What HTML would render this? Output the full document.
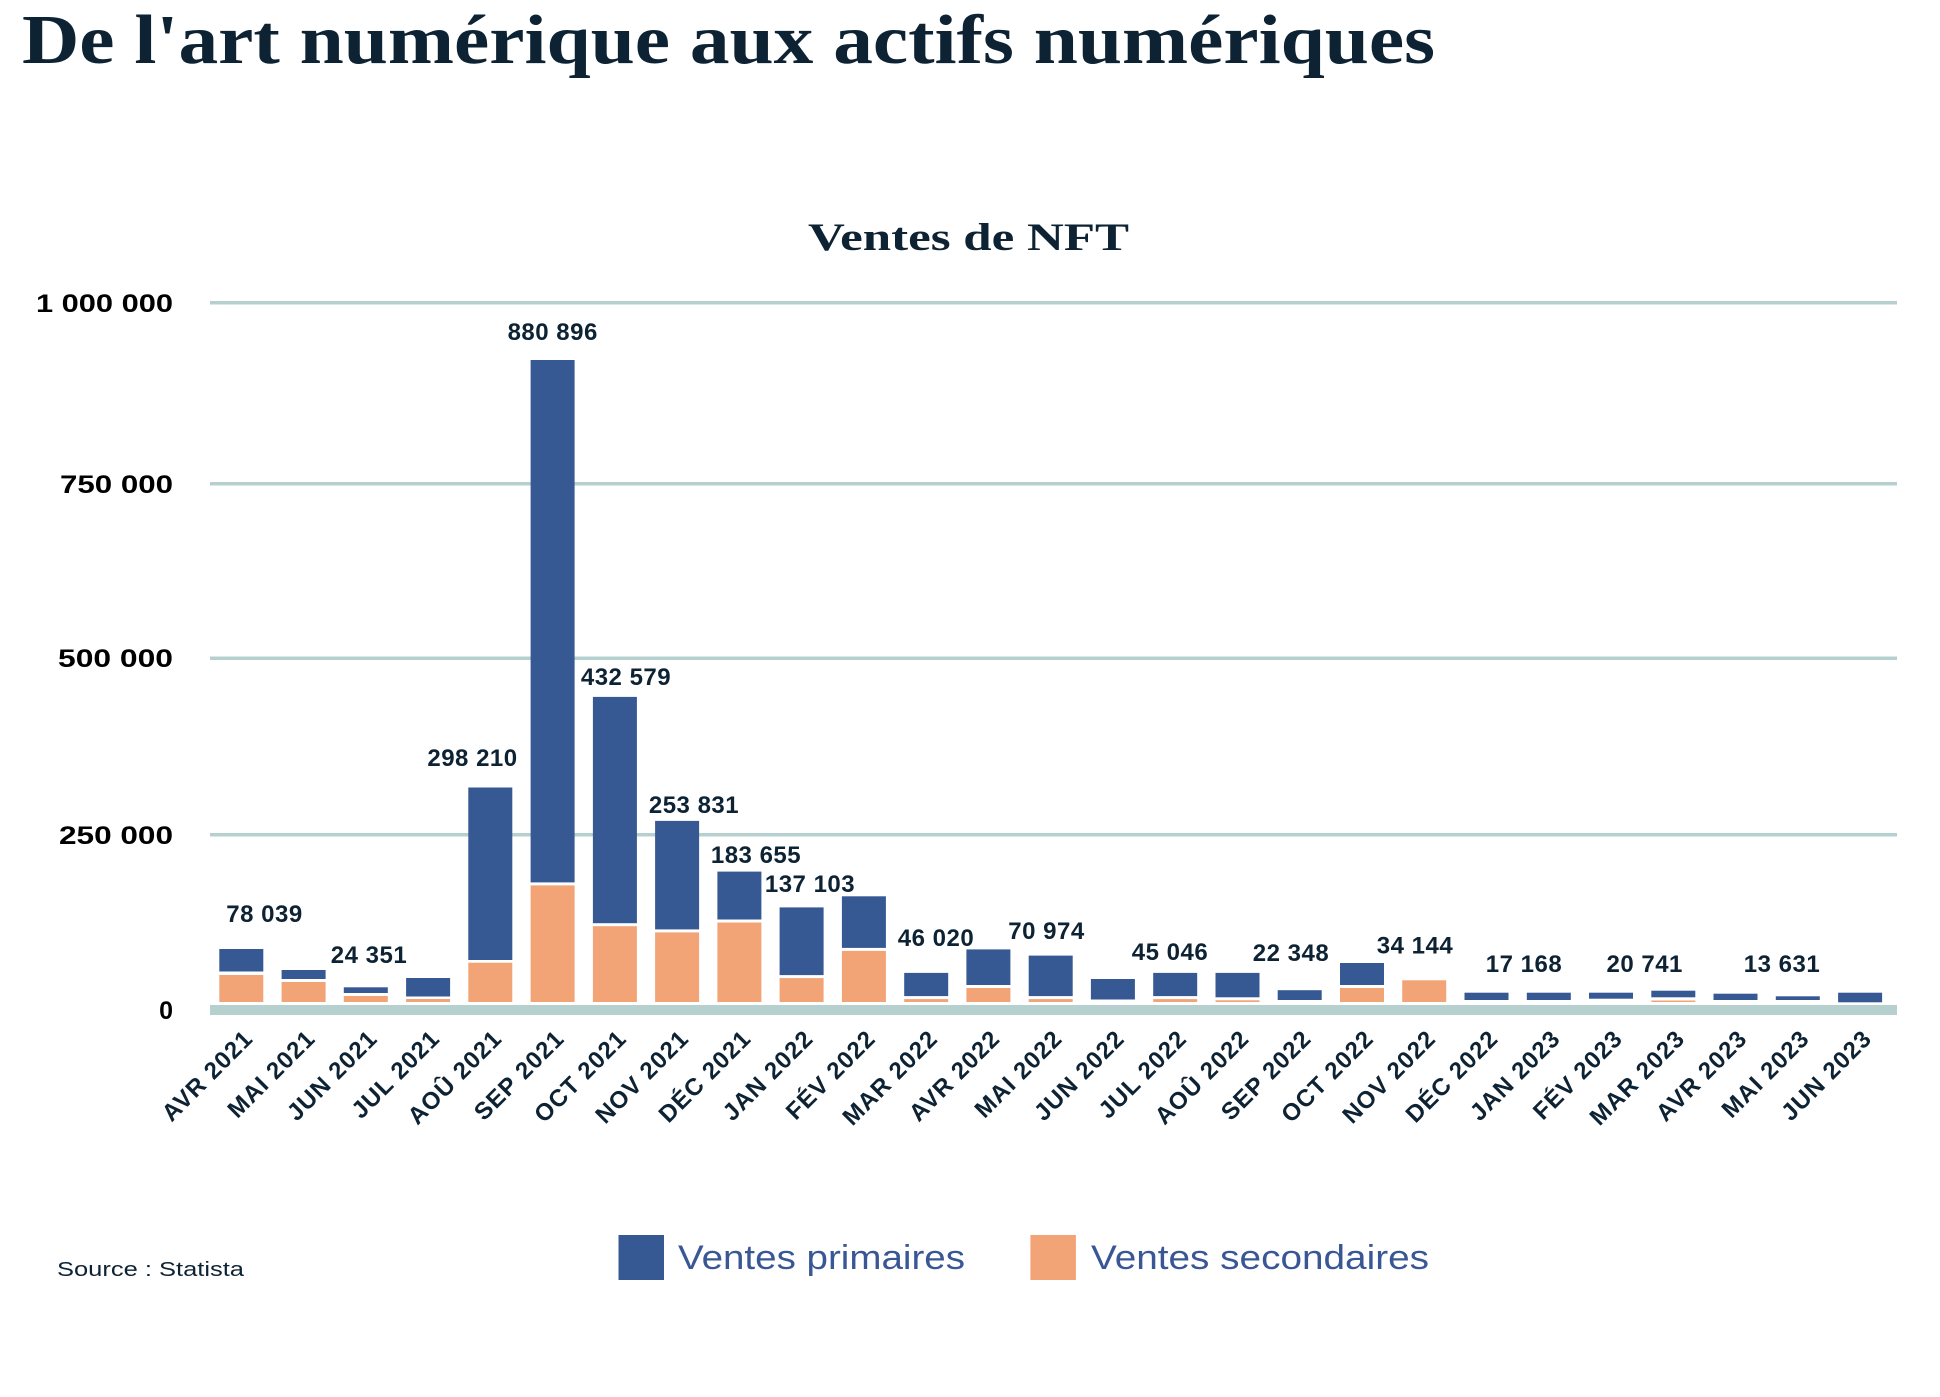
<!DOCTYPE html>
<html><head><meta charset="utf-8"><style>
html,body{margin:0;padding:0;background:#fff;}
svg{display:block;}
.vl{font-family:"Liberation Sans",sans-serif;font-weight:bold;font-size:24px;letter-spacing:0.5px;fill:#0d2233;text-anchor:middle;}
.yl{font-family:"Liberation Sans",sans-serif;font-weight:bold;font-size:25px;fill:#000;text-anchor:end;}
.xl{font-family:"Liberation Sans",sans-serif;font-weight:bold;font-size:24px;letter-spacing:1px;fill:#0d2233;text-anchor:end;}
.b{fill:#365893;} .o{fill:#f3a477;}
</style></head><body>
<svg width="1940" height="1397" viewBox="0 0 1940 1397" xmlns="http://www.w3.org/2000/svg">
<text x="22" y="63" font-family="Liberation Serif, serif" font-weight="bold" font-size="70" fill="#0d2233" textLength="1413" lengthAdjust="spacingAndGlyphs">De l'art numérique aux actifs numériques</text>
<text x="808" y="250" font-family="Liberation Serif, serif" font-weight="bold" font-size="39" fill="#0d2233" textLength="321" lengthAdjust="spacingAndGlyphs">Ventes de NFT</text>

<g fill="#b5d0cf">
<rect x="210" y="301" width="1687" height="3.5"/>
<rect x="210" y="482" width="1687" height="3.5"/>
<rect x="210" y="656.5" width="1687" height="3.5"/>
<rect x="210" y="833" width="1687" height="3.5"/>
<rect x="210" y="1005" width="1687" height="10"/>
</g>
<text class="yl" x="173" y="312" textLength="137" lengthAdjust="spacingAndGlyphs">1 000 000</text>
<text class="yl" x="173" y="493" textLength="113" lengthAdjust="spacingAndGlyphs">750 000</text>
<text class="yl" x="173" y="667" textLength="115" lengthAdjust="spacingAndGlyphs">500 000</text>
<text class="yl" x="173" y="844" textLength="114" lengthAdjust="spacingAndGlyphs">250 000</text>
<text class="yl" x="173" y="1019">0</text>

<g>
<rect class="b" x="219.3" y="949" width="44" height="22.5"/><rect class="o" x="219.3" y="975" width="44" height="27"/>
<rect class="b" x="281.6" y="970" width="44" height="9"/><rect class="o" x="281.6" y="982" width="44" height="20"/>
<rect class="b" x="343.8" y="987.3" width="44" height="5.7"/><rect class="o" x="343.8" y="996" width="44" height="6"/>
<rect class="b" x="406.1" y="978" width="44" height="18.5"/><rect class="o" x="406.1" y="999" width="44" height="3"/>
<rect class="b" x="468.3" y="787.5" width="44" height="172.5"/><rect class="o" x="468.3" y="962.7" width="44" height="39.3"/>
<rect class="b" x="530.6" y="360" width="44" height="522.4"/><rect class="o" x="530.6" y="885.4" width="44" height="116.6"/>
<rect class="b" x="592.9" y="696.9" width="44" height="226.3"/><rect class="o" x="592.9" y="926.2" width="44" height="75.8"/>
<rect class="b" x="655.1" y="820.9" width="44" height="108.5"/><rect class="o" x="655.1" y="932.4" width="44" height="69.6"/>
<rect class="b" x="717.4" y="871.6" width="44" height="47.9"/><rect class="o" x="717.4" y="922.5" width="44" height="79.5"/>
<rect class="b" x="779.6" y="907.4" width="44" height="67.7"/><rect class="o" x="779.6" y="978.1" width="44" height="23.9"/>
<rect class="b" x="841.9" y="896.3" width="44" height="51.6"/><rect class="o" x="841.9" y="950.9" width="44" height="51.1"/>
<rect class="b" x="904.2" y="972.9" width="44" height="23.2"/><rect class="o" x="904.2" y="999.1" width="44" height="2.9"/>
<rect class="b" x="966.4" y="949.4" width="44" height="35.6"/><rect class="o" x="966.4" y="988" width="44" height="14"/>
<rect class="b" x="1028.7" y="955.6" width="44" height="40.5"/><rect class="o" x="1028.7" y="999.1" width="44" height="2.9"/>
<rect class="b" x="1090.9" y="979" width="44" height="20.5"/>
<rect class="b" x="1153.2" y="972.9" width="44" height="23.2"/><rect class="o" x="1153.2" y="999.1" width="44" height="2.9"/>
<rect class="b" x="1215.5" y="972.9" width="44" height="24.4"/><rect class="o" x="1215.5" y="1000.3" width="44" height="1.7"/>
<rect class="b" x="1277.7" y="990.2" width="44" height="9.8"/>
<rect class="b" x="1340" y="963" width="44" height="22"/><rect class="o" x="1340" y="988" width="44" height="14"/>
<rect class="o" x="1402.2" y="980.3" width="44" height="21.7"/>
<rect class="b" x="1464.5" y="992.7" width="44" height="7.3"/>
<rect class="b" x="1526.8" y="992.7" width="44" height="7.3"/>
<rect class="b" x="1589" y="992.7" width="44" height="6"/>
<rect class="b" x="1651.3" y="990.7" width="44" height="6.6"/><rect class="o" x="1651.3" y="1000.5" width="44" height="1.5"/>
<rect class="b" x="1713.5" y="993.7" width="44" height="6.3"/>
<rect class="b" x="1775.8" y="996.3" width="44" height="3.7"/>
<rect class="b" x="1838.1" y="992.7" width="44" height="9.6"/>
</g>

<text class="vl" x="264.5" y="922">78 039</text>
<text class="vl" x="369" y="963">24 351</text>
<text class="vl" x="472.5" y="766">298 210</text>
<text class="vl" x="552.7" y="340">880 896</text>
<text class="vl" x="626" y="685">432 579</text>
<text class="vl" x="694" y="813">253 831</text>
<text class="vl" x="756" y="863">183 655</text>
<text class="vl" x="810" y="892">137 103</text>
<text class="vl" x="936" y="946">46 020</text>
<text class="vl" x="1046.5" y="939">70 974</text>
<text class="vl" x="1170" y="960">45 046</text>
<text class="vl" x="1291" y="961">22 348</text>
<text class="vl" x="1415" y="953.5">34 144</text>
<text class="vl" x="1524" y="972">17 168</text>
<text class="vl" x="1644.7" y="972">20 741</text>
<text class="vl" x="1782" y="972">13 631</text>

<g>
<text class="xl" transform="translate(254.3,1040) rotate(-45)">AVR 2021</text>
<text class="xl" transform="translate(316.6,1040) rotate(-45)">MAI 2021</text>
<text class="xl" transform="translate(378.8,1040) rotate(-45)">JUN 2021</text>
<text class="xl" transform="translate(441.1,1040) rotate(-45)">JUL 2021</text>
<text class="xl" transform="translate(503.3,1040) rotate(-45)">AOÛ 2021</text>
<text class="xl" transform="translate(565.6,1040) rotate(-45)">SEP 2021</text>
<text class="xl" transform="translate(627.9,1040) rotate(-45)">OCT 2021</text>
<text class="xl" transform="translate(690.1,1040) rotate(-45)">NOV 2021</text>
<text class="xl" transform="translate(752.4,1040) rotate(-45)">DÉC 2021</text>
<text class="xl" transform="translate(814.6,1040) rotate(-45)">JAN 2022</text>
<text class="xl" transform="translate(876.9,1040) rotate(-45)">FÉV 2022</text>
<text class="xl" transform="translate(939.2,1040) rotate(-45)">MAR 2022</text>
<text class="xl" transform="translate(1001.4,1040) rotate(-45)">AVR 2022</text>
<text class="xl" transform="translate(1063.7,1040) rotate(-45)">MAI 2022</text>
<text class="xl" transform="translate(1125.9,1040) rotate(-45)">JUN 2022</text>
<text class="xl" transform="translate(1188.2,1040) rotate(-45)">JUL 2022</text>
<text class="xl" transform="translate(1250.5,1040) rotate(-45)">AOÛ 2022</text>
<text class="xl" transform="translate(1312.7,1040) rotate(-45)">SEP 2022</text>
<text class="xl" transform="translate(1375,1040) rotate(-45)">OCT 2022</text>
<text class="xl" transform="translate(1437.2,1040) rotate(-45)">NOV 2022</text>
<text class="xl" transform="translate(1499.5,1040) rotate(-45)">DÉC 2022</text>
<text class="xl" transform="translate(1561.8,1040) rotate(-45)">JAN 2023</text>
<text class="xl" transform="translate(1624,1040) rotate(-45)">FÉV 2023</text>
<text class="xl" transform="translate(1686.3,1040) rotate(-45)">MAR 2023</text>
<text class="xl" transform="translate(1748.5,1040) rotate(-45)">AVR 2023</text>
<text class="xl" transform="translate(1810.8,1040) rotate(-45)">MAI 2023</text>
<text class="xl" transform="translate(1873.1,1040) rotate(-45)">JUN 2023</text>
</g>

<rect x="618.5" y="1235" width="45.5" height="45" fill="#365893"/>
<text x="678" y="1269" font-family="Liberation Sans, sans-serif" font-size="34" fill="#3a5795" textLength="287" lengthAdjust="spacingAndGlyphs">Ventes primaires</text>
<rect x="1030.4" y="1235" width="45.5" height="45" fill="#f3a477"/>
<text x="1091" y="1269" font-family="Liberation Sans, sans-serif" font-size="34" fill="#3a5795" textLength="338" lengthAdjust="spacingAndGlyphs">Ventes secondaires</text>
<text x="57" y="1276" font-family="Liberation Sans, sans-serif" font-size="20" fill="#0d2233" textLength="187" lengthAdjust="spacingAndGlyphs">Source : Statista</text>
</svg>
</body></html>
